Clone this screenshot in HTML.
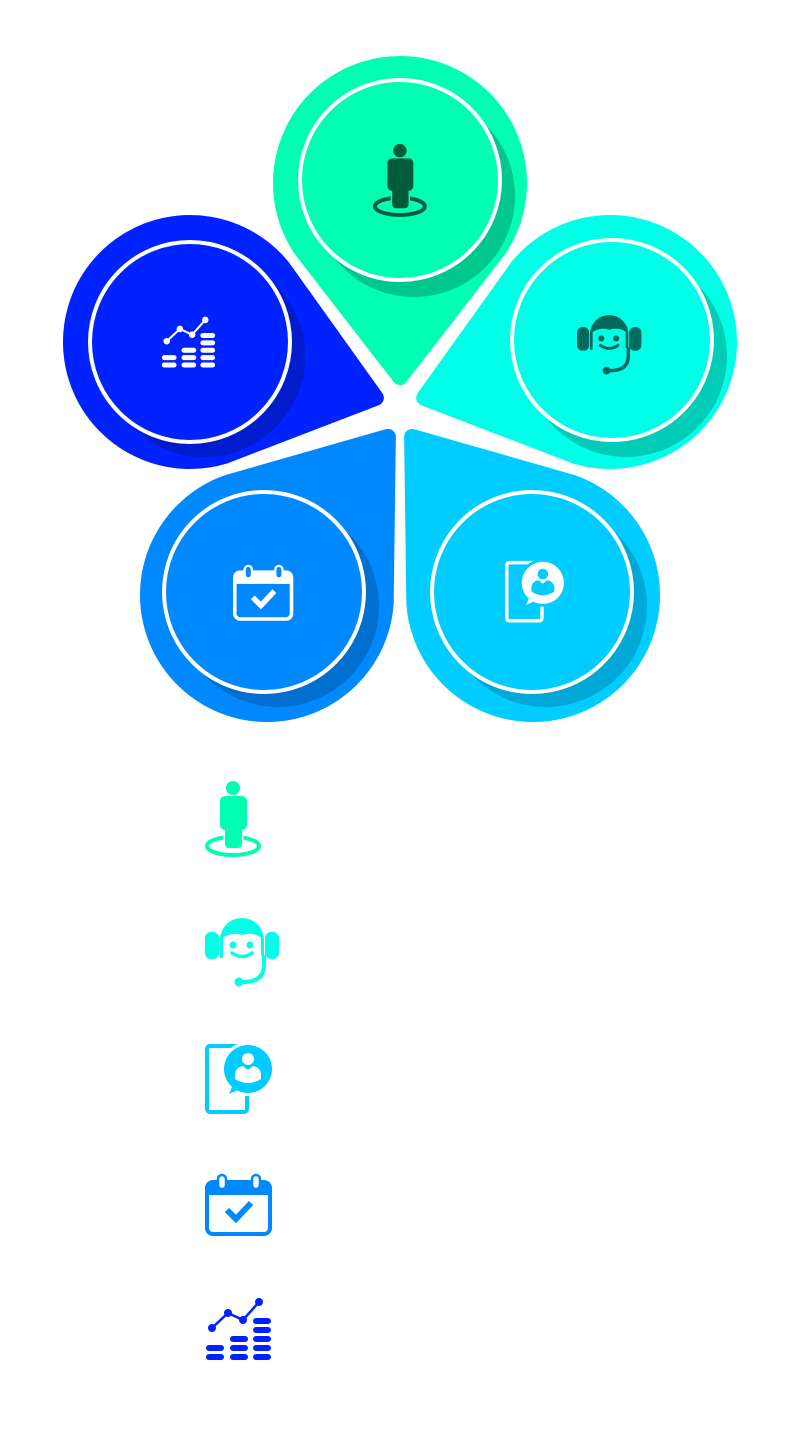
<!DOCTYPE html>
<html><head><meta charset="utf-8"><style>
html,body{margin:0;padding:0;background:#fff;width:800px;height:1440px;overflow:hidden}
svg{display:block}
</style></head><body>
<svg width="800" height="1440" viewBox="0 0 800 1440" xmlns="http://www.w3.org/2000/svg">
<defs>
<path id="petal" d="M98.6 66.6 A119 119 0 1 0 -98.6 66.6 L0 194 Z" stroke-width="16" stroke-linejoin="round"/>
<path id="petal2" d="M99.6 65.1 A119 119 0 1 0 -99.6 65.1 L0 199 Z" stroke-width="16" stroke-linejoin="round"/>
<g id="i-person">
  <ellipse cx="28" cy="67" rx="26" ry="9" fill="none" stroke="currentColor" stroke-width="4"/>
  <rect x="20" y="35" width="17" height="34" rx="4" fill="var(--bg)" stroke="var(--bg)" stroke-width="3"/>
  <circle cx="28" cy="9" r="7" fill="currentColor"/>
  <rect x="15" y="17" width="27" height="34" rx="5" fill="currentColor"/>
  <rect x="20" y="35" width="17" height="34" rx="4" fill="currentColor"/>
</g>
<g id="i-head">
  <path d="M15 30 A22 22 0 0 1 59 30 Q50 21 37 25 Q25 21 15 30 Z" fill="currentColor"/>
  <rect x="0" y="22" width="14" height="27" rx="6" fill="currentColor"/>
  <rect x="60" y="22" width="14" height="27" rx="6" fill="currentColor"/>
  <path d="M16.5 28 V48 M57.5 28 V46" stroke="currentColor" stroke-width="3" fill="none"/>
  <circle cx="28" cy="35" r="3.5" fill="currentColor"/>
  <circle cx="45" cy="35" r="3.5" fill="currentColor"/>
  <path d="M27 43 Q37 50 47 43" stroke="currentColor" stroke-width="3.5" fill="none" stroke-linecap="round"/>
  <path d="M59 45 L59 55 Q59 72 38 72" stroke="currentColor" stroke-width="4" fill="none"/>
  <circle cx="34" cy="72" r="4.5" fill="currentColor"/>
</g>
<g id="i-tab">
  <rect x="2" y="3" width="40" height="66" rx="3" fill="none" stroke="currentColor" stroke-width="4"/>
  <circle cx="43" cy="26" r="27" fill="var(--bg)"/>
  <path d="M27 44 L24 51 L33 47 Z" fill="currentColor"/>
  <circle cx="43" cy="26" r="24" fill="currentColor"/>
  <circle cx="43" cy="16" r="6" fill="var(--bg)"/>
  <path d="M30 31 Q31 24 38 23 L43 27 L48 23 Q55 24 56 31 L56 36 Q50 40 43 40 Q36 40 30 36 Z" fill="var(--bg)"/>
</g>
<g id="i-cal">
  <rect x="2" y="8" width="63" height="52" rx="6" fill="none" stroke="currentColor" stroke-width="4"/>
  <rect x="2" y="8" width="63" height="13" fill="currentColor"/>
  <rect x="13" y="1" width="8" height="14" rx="4" fill="var(--bg)" stroke="currentColor" stroke-width="2.5"/>
  <rect x="47" y="1" width="8" height="14" rx="4" fill="var(--bg)" stroke="currentColor" stroke-width="2.5"/>
  <polyline points="22,36 31,45 46,29" fill="none" stroke="currentColor" stroke-width="6"/>
</g>
<g id="i-chart">
  <polyline points="7,32 23,17 38,24 54,6" fill="none" stroke="currentColor" stroke-width="2.5"/>
  <circle cx="7" cy="32" r="4" fill="currentColor"/><circle cx="23" cy="17" r="4" fill="currentColor"/>
  <circle cx="38" cy="24" r="4" fill="currentColor"/><circle cx="54" cy="6" r="4" fill="currentColor"/>
  <g fill="currentColor">
  <rect x="1" y="49" width="18" height="6" rx="3"/><rect x="1" y="58" width="18" height="6" rx="3"/>
  <rect x="25" y="40" width="18" height="6" rx="3"/><rect x="25" y="49" width="18" height="6" rx="3"/><rect x="25" y="58" width="18" height="6" rx="3"/>
  <rect x="48" y="22" width="18" height="6" rx="3"/><rect x="48" y="31" width="18" height="6" rx="3"/><rect x="48" y="40" width="18" height="6" rx="3"/><rect x="48" y="49" width="18" height="6" rx="3"/><rect x="48" y="58" width="18" height="6" rx="3"/>
  </g>
</g>
</defs>

<!-- petals -->
<g transform="translate(400,183)"><use href="#petal" fill="#00ffb0" stroke="#00ffb0"/></g>
<g transform="translate(190,342) rotate(-73.3)"><use href="#petal" fill="#0022ff" stroke="#0022ff"/></g>
<g transform="translate(610,342) rotate(73.3)"><use href="#petal" fill="#00ffe6" stroke="#00ffe6"/></g>
<g transform="translate(267,595) rotate(-142.6)"><use href="#petal2" fill="#0088ff" stroke="#0088ff"/></g>
<g transform="translate(533,595) rotate(142.6)"><use href="#petal2" fill="#00ccff" stroke="#00ccff"/></g>

<!-- circles -->
<circle cx="414" cy="196" r="101" fill="#00c88c"/>
<circle cx="400" cy="180" r="100" fill="#00ffb0" stroke="#fff" stroke-width="4"/>
<circle cx="204" cy="356" r="101" fill="#001ccc"/>
<circle cx="190" cy="342" r="100" fill="#0022ff" stroke="#fff" stroke-width="4"/>
<circle cx="626" cy="356" r="101" fill="#00ccb8"/>
<circle cx="612" cy="340" r="100" fill="#00ffe6" stroke="#fff" stroke-width="4"/>
<circle cx="278" cy="606" r="101" fill="#006fd0"/>
<circle cx="264" cy="592" r="100" fill="#0088ff" stroke="#fff" stroke-width="4"/>
<circle cx="546" cy="606" r="101" fill="#00a8d8"/>
<circle cx="532" cy="592" r="100" fill="#00ccff" stroke="#fff" stroke-width="4"/>

<!-- upper icons -->
<g transform="translate(373,142) scale(0.96)" style="color:#005a3c;--bg:#00ffb0"><use href="#i-person"/></g>
<g transform="translate(577,308) scale(0.87)" style="color:#006a5e;--bg:#00ffe6"><use href="#i-head"/></g>
<g transform="translate(161,315) scale(0.82)" style="color:#fff;--bg:#0022ff"><use href="#i-chart"/></g>
<g transform="translate(233,565) scale(0.9)" style="color:#fff;--bg:#0088ff"><use href="#i-cal"/></g>
<g transform="translate(505,560) scale(0.88)" style="color:#fff;--bg:#00ccff"><use href="#i-tab"/></g>

<!-- lower icons -->
<g transform="translate(205,779)" style="color:#00ffb0;--bg:#fff"><use href="#i-person"/></g>
<g transform="translate(205,910)" style="color:#00ffe6;--bg:#fff"><use href="#i-head"/></g>
<g transform="translate(205,1043)" style="color:#00ccff;--bg:#fff"><use href="#i-tab"/></g>
<g transform="translate(205,1174)" style="color:#0088ff;--bg:#fff"><use href="#i-cal"/></g>
<g transform="translate(205,1296)" style="color:#0022ff;--bg:#fff"><use href="#i-chart"/></g>
</svg>
</body></html>
